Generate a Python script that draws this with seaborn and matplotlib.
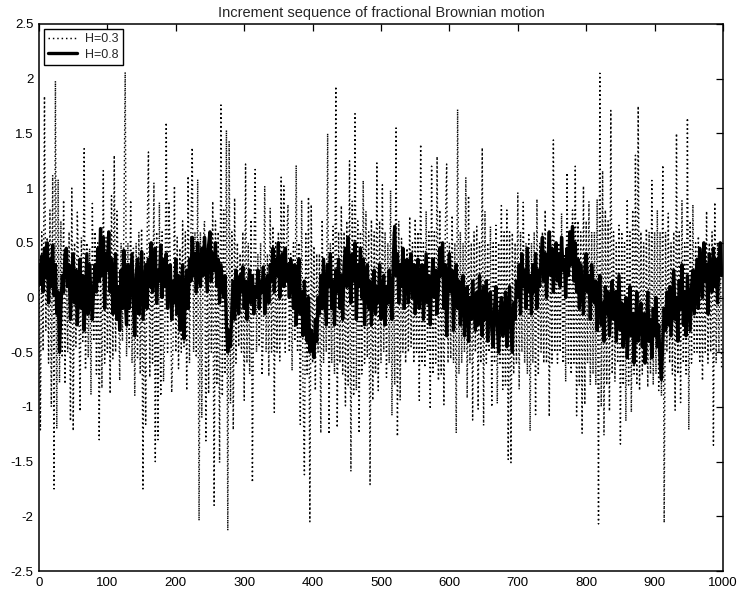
import numpy as np
import pandas as pd
import matplotlib
matplotlib.use("Agg")
import matplotlib.pyplot as plt
import seaborn as sns

x_values = list(range(0, 1000, 2))

h03_values = [
    0.35, -1.21, 0.6, -0.49, 1.84, -0.3, 0.55, -0.6, 0.8, -1.0, 1.12, -1.75, 1.98, -1.2, 1.08, -0.78, 0.7, -0.55, 0.89, -0.79,
    0.4, -0.5, 0.6, -1.13, 1.0, -1.22, 0.5, -0.45, 0.78, 0.2, -1.04, 0.55, -0.4, 1.36, -0.66, 0.5, -0.55, 0.45, -0.89, 0.86,
    -0.4, 0.6, -0.7, 0.5, -1.30, 0.5, -0.83, 1.16, -0.6, 0.55, -0.5, 0.6, -0.88, 0.93, -0.56, 1.30, -0.5, 0.79, 0.1, -0.76,
    0.5, -0.4, 0.6, 2.06, -0.54, 0.5, -0.45, 0.89, -0.6, 0.45, -0.9, 0.5, -0.55, 0.6, -0.7, 0.63, -1.75, 0.4, -1.16, 0.5,
    1.33, -0.73, 0.5, -0.6, 1.05, -1.50, 0.6, -1.3, 0.87, -0.9, 0.6, -0.77, -0.3, 1.60, -0.5, 0.88, 0.3, -0.87, -0.4, 1.02,
    -0.5, 0.55, -0.65, 0.45, -0.5, 0.7, -0.45, 0.6, -0.85, 1.11, -0.6, 0.5, 1.37, -0.5, 0.6, -0.55, 1.08, -2.04, 0.6, -1.1,
    0.5, 0.7, -1.31, 0.45, -0.88, 0.6, -0.5, 0.88, -1.90, 0.7, -0.8, 0.6, -1.51, 1.76, -0.9, 0.8, -0.7, 1.53, -2.13, 1.43,
    -0.97, 0.6, -1.21, 0.91, -0.6, 0.5, -0.45, 0.4, -0.5, 0.6, -0.94, 1.22, -0.6, 0.5, -0.7, 0.71, -1.69, 0.2, 1.17, -0.5,
    0.4, -0.45, 0.5, -0.71, -0.3, 1.02, -0.5, 0.4, -0.72, 0.82, -0.5, 0.65, -1.05, 0.5, -0.5, 0.6, -0.58, 1.10, -0.4, 1.02,
    -0.5, 0.5, 0.85, -0.5, 0.4, -0.67, 0.5, -0.4, 1.21, -0.5, 0.5, -1.16, 0.89, -0.8, -1.62, 0.6, -0.7, 0.92, -2.05, 0.85,
    -0.6, 0.47, -0.85, 0.4, -0.5, 0.4, -1.24, 0.71, -0.6, 0.3, -0.5, 1.50, -1.25, 0.5, -0.6, 0.65, -0.7, 1.93, -1.19, 0.6,
    -0.6, 0.84, -0.7, 0.6, -0.99, 0.7, -0.8, 1.25, -1.59, 0.88, -0.9, 1.68, -0.85, 0.7, -1.24, 0.6, -0.7, 1.07, -0.6, 0.79,
    -0.55, 0.6, -1.71, 0.71, -0.94, 0.6, -0.7, 1.23, -0.85, 0.7, -0.6, 1.03, -0.5, 0.6, -0.73, 0.5, -0.6, 0.98, -1.08, 0.6,
    -0.8, 1.55, -1.27, 0.7, -0.94, 0.54, -0.5, 0.4, -0.6, 0.45, -0.5, 0.74, -0.45, 0.5, -0.6, 0.72, -0.5, 0.6, -0.94, 1.40,
    -0.6, 0.5, -0.64, 0.79, -0.5, 0.6, -1.02, 1.20, -0.7, 0.6, -0.6, 1.29, -0.76, 0.8, -0.7, 0.5, -0.98, 0.6, 1.22, -0.6,
    0.5, -0.56, 0.75, -0.6, 0.5, -1.24, 1.72, -0.7, 0.6, -0.6, 0.5, -0.5, 1.10, -0.92, 0.93, -0.6, 0.5, -1.12, 0.6, -0.5,
    0.65, -1.02, 0.5, -0.6, 1.37, -1.17, 0.79, -0.6, 0.5, -0.5, 0.65, -1.0, 0.5, -0.6, 0.66, -0.97, 0.5, -0.6, 0.84, -0.84,
    0.6, -0.8, 0.80, -1.48, 0.6, -1.51, 0.59, -0.7, 0.5, -0.6, 0.96, -0.84, 0.6, -0.5, 0.87, -0.6, 0.5, -0.7, 0.59, -1.22,
    0.5, -0.6, 0.6, -1.07, 0.9, -0.71, 0.5, -0.5, 0.6, -0.6, 0.8, -0.6, 0.5, -1.09, 0.6, -0.6, 1.44, -0.5, 0.5, -0.6,
    0.5, -0.5, 0.77, -0.6, 0.4, -0.77, 1.14, -0.6, 0.6, -0.7, 0.8, -0.6, 1.20, -1.08, 0.7, -0.8, 0.6, -1.24, 1.02, -0.98,
    0.7, -0.6, 0.88, -0.8, 0.6, -0.7, 0.6, -0.8, 0.9, -2.07, 2.05, -1.0, 1.16, -1.26, 0.8, -0.8, 0.7, -1.04, 1.71, -0.7,
    0.6, -0.77, 0.5, -0.6, 0.66, -1.34, 0.6, -0.8, 0.5, -1.13, 0.9, -0.8, 0.6, -1.05, 0.8, -0.7, 1.30, -0.8, 1.75, -0.85,
    0.6, -0.7, 0.5, -0.6, 0.63, -0.82, 0.6, -0.7, 1.07, -0.8, 0.6, -0.7, 0.8, -0.85, 0.6, -0.9, 1.21, -2.06, 0.6, -0.5,
    0.77, -0.6, 0.5, -0.7, 0.6, -1.03, 1.50, -0.7, 0.6, -0.96, 0.89, -0.6, 0.5, -0.7, 1.64, -1.21, 0.7, -0.6, 0.85, -0.5,
    0.5, -0.5, 0.56, -0.6, 0.4, -0.76, 0.5, -0.5, 0.79, -0.6, 0.5, -0.5, 0.6, -1.35, 0.87, -0.6, 0.5, -0.5, 0.5, -0.66,
]

h08_values = [
    0.30, 0.12, 0.38, 0.05, 0.45, 0.18, 0.50, -0.05, 0.35, 0.10, 0.48, 0.02, 0.30, -0.15, 0.05, -0.50, -0.10, 0.20, 0.05, 0.40,
    0.45, 0.10, 0.30, -0.20, 0.15, 0.40, -0.05, 0.25, -0.25, 0.10, 0.35, -0.10, 0.20, -0.30, 0.05, 0.40, -0.15, 0.30, 0.00, -0.20,
    0.10, 0.30, 0.05, 0.45, 0.15, 0.63, 0.20, 0.55, -0.10, 0.40, 0.25, 0.60, 0.05, 0.35, -0.15, 0.20, 0.40, -0.20, 0.10, -0.30,
    0.25, -0.10, 0.43, 0.00, -0.25, 0.30, -0.10, 0.15, 0.40, -0.05, -0.35, 0.20, 0.35, -0.15, 0.10, 0.42, -0.20, 0.05, 0.30, -0.10,
    0.35, 0.10, 0.50, 0.05, 0.30, 0.45, -0.05, 0.25, 0.15, 0.48, 0.00, 0.35, 0.10, 0.40, -0.10, 0.25, 0.30, -0.20, 0.15, -0.05,
    0.35, -0.15, 0.20, -0.30, 0.10, 0.30, -0.38, 0.05, 0.25, -0.10, 0.35, 0.15, 0.55, 0.20, 0.40, 0.05, 0.50, 0.25, 0.10, 0.45,
    0.20, 0.55, 0.30, 0.05, 0.48, 0.60, 0.15, 0.40, 0.25, 0.50, 0.10, 0.35, -0.05, 0.30, 0.15, 0.00, 0.20, -0.25, -0.50, -0.30,
    -0.45, -0.10, 0.15, -0.20, 0.25, 0.00, -0.15, 0.20, 0.05, 0.28, -0.10, 0.15, -0.20, 0.10, 0.25, -0.05, 0.20, -0.15, 0.10, 0.00,
    0.25, -0.10, 0.15, 0.05, 0.28, -0.15, 0.10, 0.20, -0.05, 0.30, 0.15, 0.45, 0.05, 0.35, 0.20, 0.50, 0.00, 0.30, 0.40, 0.10,
    0.45, 0.15, 0.30, 0.00, 0.35, 0.20, -0.10, 0.30, -0.25, 0.10, 0.35, -0.15, 0.05, -0.35, 0.15, -0.20, -0.40, 0.00, -0.50, -0.30,
    -0.45, -0.55, -0.20, -0.40, 0.00, -0.15, 0.20, -0.10, 0.35, 0.05, -0.25, 0.30, 0.10, 0.40, -0.10, 0.15, -0.25, 0.25, 0.05, 0.35,
    -0.10, 0.20, -0.20, 0.30, 0.45, 0.10, 0.55, 0.20, -0.05, 0.40, 0.15, 0.50, -0.20, 0.30, 0.10, 0.45, 0.00, 0.35, -0.25, 0.20,
    0.30, -0.10, 0.15, -0.25, 0.05, 0.25, -0.15, 0.10, -0.05, 0.30, -0.20, 0.05, 0.20, -0.25, 0.10, -0.05, 0.25, 0.00, -0.20, 0.35,
    0.65, 0.20, 0.40, -0.05, 0.30, 0.10, 0.45, -0.10, 0.25, 0.35, -0.05, 0.20, 0.40, 0.00, 0.30, -0.15, 0.15, 0.35, -0.10, 0.20,
    0.30, -0.20, 0.10, 0.40, -0.05, 0.20, -0.25, 0.15, 0.35, 0.00, 0.25, -0.15, 0.10, 0.45, 0.20, 0.50, -0.10, 0.30, -0.35, 0.15,
    0.40, 0.05, 0.25, -0.30, 0.10, 0.30, -0.10, 0.15, -0.25, 0.05, 0.20, -0.35, -0.05, 0.10, -0.40, 0.00, -0.20, 0.15, -0.10, -0.30,
    0.05, -0.25, 0.20, -0.10, -0.35, 0.10, -0.20, 0.15, -0.40, -0.05, 0.05, -0.30, -0.45, -0.10, 0.10, -0.25, -0.50, -0.15, 0.00, -0.35,
    -0.20, 0.05, -0.45, -0.10, 0.10, -0.30, -0.50, -0.05, -0.20, 0.15, 0.00, 0.30, -0.15, 0.40, 0.10, 0.25, -0.10, 0.45, 0.05, 0.20,
    -0.15, 0.30, 0.05, 0.40, -0.10, 0.25, 0.10, 0.35, 0.55, 0.15, 0.40, 0.00, 0.30, 0.60, 0.20, 0.45, 0.05, 0.35, 0.50, 0.15,
    0.40, 0.10, 0.55, 0.25, 0.35, 0.00, 0.45, 0.20, 0.60, 0.30, 0.65, 0.15, 0.50, 0.05, 0.35, -0.10, 0.30, 0.10, -0.15, 0.25,
    0.40, 0.05, 0.20, -0.20, 0.30, 0.10, -0.05, 0.15, -0.30, 0.00, 0.20, -0.25, -0.05, -0.40, 0.10, -0.15, 0.05, -0.35, -0.10, 0.15,
    -0.20, 0.05, -0.40, -0.10, 0.20, -0.30, -0.05, -0.45, -0.20, 0.00, -0.55, -0.25, 0.10, -0.35, -0.15, -0.60, -0.30, 0.05, -0.40, -0.20,
    -0.05, -0.45, -0.15, -0.60, -0.30, 0.05, -0.40, -0.20, -0.55, -0.10, -0.35, 0.00, -0.45, -0.25, -0.60, -0.75, -0.40, -0.10, -0.30, 0.05,
    -0.25, 0.10, -0.35, -0.05, 0.25, -0.20, 0.00, -0.40, 0.15, -0.10, 0.30, -0.25, 0.05, -0.35, 0.20, -0.05, -0.30, 0.10, 0.25, -0.15,
    0.10, 0.35, -0.10, 0.45, 0.20, 0.00, 0.50, 0.15, 0.30, -0.15, 0.40, 0.25, 0.05, 0.45, 0.10, 0.35, -0.05, 0.30, 0.50, 0.20,
]

series_labels = ["H=0.3", "H=0.8"]
title_text = "Increment sequence of fractional Brownian motion"
x_ticks = [0, 100, 200, 300, 400, 500, 600, 700, 800, 900, 1000]
y_ticks = [-2.5, -2, -1.5, -1, -0.5, 0, 0.5, 1, 1.5, 2, 2.5]
y_tick_labels = ["-2.5", "-2", "-1.5", "-1", "-0.5", "0", "0.5", "1", "1.5", "2", "2.5"]

# ---- plotting ----
sns.set_style("white")
plt.rcParams["font.family"] = ["Liberation Sans", "DejaVu Sans"]

fig = plt.figure(figsize=(7.37, 5.91), dpi=100)
ax = fig.add_axes([39 / 737, 1 - 571 / 591, (723 - 39) / 737, (571 - 24) / 591])

df03 = pd.DataFrame({"x": x_values, "y": h03_values})
df08 = pd.DataFrame({"x": x_values, "y": h08_values})

sns.lineplot(data=df03, x="x", y="y", ax=ax, color="black", linestyle=(0, (1.0, 2.0)),
             linewidth=1.05, estimator=None, sort=False, label=series_labels[0])
sns.lineplot(data=df08, x="x", y="y", ax=ax, color="black", linestyle="-",
             linewidth=2.4, estimator=None, sort=False, label=series_labels[1])

ax.set_xlim(0, 1000)
ax.set_ylim(-2.5, 2.5)
ax.set_xticks(x_ticks)
ax.set_xticklabels([str(t) for t in x_ticks])
ax.set_yticks(y_ticks)
ax.set_yticklabels(y_tick_labels)
ax.set_xlabel("")
ax.set_ylabel("")
ax.tick_params(direction="in", top=True, right=True, length=5, width=0.9,
               labelsize=9.5, pad=4, colors="black")
for s in ax.spines.values():
    s.set_color("black")
    s.set_linewidth(1.1)

ax.set_title(title_text, fontsize=10.5, pad=5)

leg = ax.legend(loc="upper left", frameon=True, fancybox=False, fontsize=9,
                handlelength=2.3, borderpad=0.35, labelspacing=0.25,
                borderaxespad=0.4, handletextpad=0.6)
leg.get_frame().set_edgecolor("black")
leg.get_frame().set_linewidth(1.0)
leg.get_frame().set_alpha(1.0)

fig.savefig("out.png", dpi=100)
